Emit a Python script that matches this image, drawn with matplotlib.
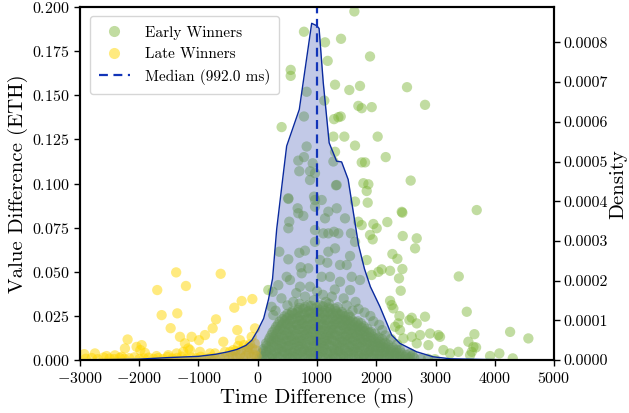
import matplotlib
matplotlib.use("Agg")
import matplotlib.pyplot as plt
from matplotlib.lines import Line2D

plt.rcParams['font.family'] = 'serif'
plt.rcParams['font.serif'] = ['cmr10']
plt.rcParams['mathtext.fontset'] = 'cm'
plt.rcParams['axes.formatter.use_mathtext'] = True
plt.rcParams['axes.unicode_minus'] = True

# ---------------- data ----------------
# Early winners: sparse points
early_x = [780, 556, 556, 403, 825, 780, 825, 780, 684, 701, 927, 882, 516, 673,
           1630, 1135, 1405, 1180, 1894, 1304, 1545, 1725, 2518, 2822, 1697, 1754, 1923, 1123,
           1287, 1400, 1461, 2023, 1641, 2159, 1754, 1810, 1304, 1276, 2580, 1782, 1866, 1838,
           1641, 1855, 1320, 3694, 2429, 1079, 966, 882, 1360, 966, 1276,
           516, 949, 1332, 684, 769, 966, 1135, 1191, 1332, 1472, 532, 516, 966, 1107, 1287,
           1360, 1191, 1573, 1641, 966, 1191, 1304, 1557, 701, 797, 364, 516, 1050, 1174, 725,
           853, 1388, 1501, 741, 488, 544, 1219, 1079, 1585, 1725, 347, 713, 882, 1388, 1557,
           251, 178, 234, 262,
           2440, 2186, 1697, 1754, 1950, 2007, 1894, 1939, 2446, 2682, 2654, 1838, 2271, 2356,
           2440, 2232, 2091, 2035, 1922, 2383, 2412, 3391, 3526, 2822, 2598, 2682, 2390, 2260,
           2232, 2288, 3655, 4257, 4565, 3553, 3683, 4076, 4302, 3919, 3384, 3047, 3075, 2907,
           2738, 2598, 2457, 2682, 2879, 3132, 3244, 3582, 3610, 2569, 2400, 2316, 2372, 2558,
           2400, 3638,
           400, 600, 650, 800, 950, 1000, 1100, 1150, 1250, 1300, 1450, 1500, 1650, 1700, 1800,
           1900, 1950, 2050, 2100, 2150, 300, 500, 700, 850, 1050, 1200, 1350, 1600, 2250, 2350]
early_y = [0.186, 0.1644, 0.161, 0.132, 0.152, 0.138, 0.121, 0.115, 0.113, 0.107, 0.1115, 0.102, 0.0913, 0.086,
           0.1975, 0.180, 0.182, 0.1695, 0.172, 0.156, 0.153, 0.1553, 0.1546, 0.1446, 0.144, 0.1427, 0.1433, 0.147,
           0.1365, 0.138, 0.1266, 0.1266, 0.1215, 0.115, 0.112, 0.112, 0.118, 0.1125, 0.1017, 0.1002, 0.0996, 0.0958,
           0.0898, 0.0892, 0.099, 0.085, 0.084, 0.0907, 0.0907, 0.107, 0.1376, 0.1059, 0.1266,
           0.0917, 0.0926, 0.0992, 0.0832, 0.0817, 0.0869, 0.0803, 0.0841, 0.086, 0.0803, 0.0784, 0.0747, 0.0737, 0.0718, 0.0727,
           0.0718, 0.0718, 0.0718, 0.067, 0.067, 0.0614, 0.0633, 0.059, 0.0608, 0.062, 0.0614, 0.0571, 0.0567, 0.0552, 0.0526,
           0.052, 0.0539, 0.0539, 0.0492, 0.0472, 0.0454, 0.0472, 0.0472, 0.0472, 0.0454, 0.0425, 0.0416, 0.0416, 0.0444, 0.0397,
           0.0387, 0.0397, 0.0302, 0.0255,
           0.0835, 0.0782, 0.0784, 0.0765, 0.0771, 0.0747, 0.0709, 0.0684, 0.0703, 0.069, 0.0633, 0.0567, 0.0601, 0.0574,
           0.0516, 0.0506, 0.0514, 0.05, 0.0482, 0.0463, 0.0393, 0.0474, 0.0274, 0.0246, 0.024, 0.0208, 0.025, 0.0312,
           0.0336, 0.0293, 0.0147, 0.016, 0.0123, 0.0104, 0.0072, 0.0038, 0.001, 0.0023, 0.0047, 0.0142, 0.0132, 0.0151,
           0.0142, 0.0132, 0.0123, 0.0095, 0.0085, 0.0057, 0.0038, 0.0028, 0.0047, 0.0038, 0.0057, 0.0189, 0.0208, 0.0227,
           0.017, 0.0075,
           0.035, 0.033, 0.038, 0.036, 0.034, 0.039, 0.037, 0.033, 0.036, 0.040, 0.035, 0.031, 0.033, 0.029, 0.027,
           0.025, 0.022, 0.020, 0.017, 0.014, 0.028, 0.031, 0.032, 0.031, 0.031, 0.032, 0.030, 0.028, 0.012, 0.009]

# Early winners: dense cluster near the bottom (first layer)
dense_x = [30, 120, 200, 290, 370, 460, 540, 630, 710, 800, 890, 970, 1060, 1150, 1230, 1320, 1400, 1490, 1580, 1660,
           1750, 1830, 1920, 2010, 2090, 2180, 2270, 2350, 2440, 2540, 2640, 2750, 2870, 2990,
           60, 150, 240, 320, 410, 500, 580, 670, 750, 840, 930, 1010, 1100, 1180, 1270, 1360, 1440, 1530, 1610, 1700,
           1790, 1870, 1960, 2050, 2130, 2220, 2310, 2400, 2500, 2610,
           90, 180, 270, 350, 440, 520, 610, 690, 780, 860, 950, 1040, 1120, 1210, 1290, 1380, 1470, 1550, 1640, 1720,
           1810, 1900, 1980, 2070, 2160, 2250, 2340,
           140, 230, 310, 400, 480, 570, 650, 740, 820, 910, 1000, 1080, 1170, 1250, 1340, 1420, 1510, 1600, 1680, 1770,
           1850, 1940, 2030, 2120, 2200,
           200, 280, 370, 450, 540, 620, 710, 790, 880, 960, 1050, 1130, 1220, 1300, 1390, 1480, 1560, 1650, 1730, 1820,
           1910, 2000, 2100,
           250, 340, 420, 510, 590, 680, 760, 850, 930, 1020, 1100, 1190, 1270, 1360, 1450, 1530, 1620, 1700, 1790, 1880, 1980,
           310, 400, 480, 570, 650, 740, 820, 910, 990, 1080, 1160, 1250, 1330, 1420, 1500, 1590, 1680, 1760, 1850,
           370, 460, 540, 630, 710, 800, 880, 970, 1050, 1140, 1220, 1310, 1390, 1480, 1560, 1650, 1740,
           450, 540, 620, 710, 790, 880, 960, 1050, 1130, 1220, 1300, 1390, 1470, 1560,
           580, 680, 770, 860, 950, 1040, 1130, 1220, 1320, 1420]
dense_y = [.0010, .0006, .0014, .0008, .0012, .0005, .0011, .0016, .0007, .0013, .0009, .0004, .0015, .0010, .0006, .0012, .0017, .0008, .0011, .0005,
           .0014, .0009, .0012, .0006, .0010, .0015, .0007, .0011, .0005, .0009, .0012, .0006, .0008, .0005,
           .0038, .0045, .0032, .0041, .0048, .0036, .0043, .0035, .0047, .0039, .0044, .0033, .0046, .0040, .0037, .0049, .0034, .0042, .0045, .0038,
           .0031, .0044, .0040, .0036, .0043, .0035, .0039, .0033, .0030, .0028,
           .0062, .0071, .0078, .0066, .0074, .0080, .0069, .0077, .0064, .0072, .0079, .0068, .0075, .0081, .0065, .0073, .0070, .0078, .0067, .0074,
           .0071, .0063, .0076, .0069, .0066, .0060, .0058,
           .0095, .0104, .0110, .0098, .0107, .0113, .0101, .0109, .0096, .0112, .0103, .0099, .0108, .0114, .0097, .0106, .0102, .0110, .0095, .0104,
           .0100, .0097, .0093, .0090, .0088,
           .0125, .0134, .0128, .0140, .0131, .0137, .0126, .0142, .0133, .0129, .0139, .0127, .0136, .0141, .0130, .0135, .0128, .0133, .0126, .0130,
           .0124, .0121, .0118,
           .0158, .0166, .0172, .0160, .0169, .0175, .0163, .0171, .0159, .0174, .0167, .0162, .0170, .0165, .0173, .0161, .0168, .0158, .0162, .0155, .0150,
           .0188, .0197, .0203, .0191, .0200, .0206, .0194, .0202, .0189, .0205, .0196, .0192, .0201, .0198, .0193, .0190, .0186, .0183, .0178,
           .0218, .0226, .0221, .0232, .0224, .0229, .0235, .0222, .0231, .0227, .0233, .0220, .0228, .0223, .0219, .0214, .0210,
           .0248, .0255, .0262, .0250, .0258, .0265, .0253, .0260, .0256, .0263, .0251, .0257, .0249, .0244,
           .0275, .0284, .0290, .0279, .0293, .0286, .0281, .0289, .0277, .0272]

# Early winners: dense cluster near the bottom (second layer)
dense2_x = [75, 165, 250, 335, 420, 505, 590, 675, 760, 845, 930, 1015, 1100, 1190, 1275, 1360, 1445, 1530, 1615, 1705,
            1790, 1875, 1960, 2045, 2135, 2220, 2305, 2395, 2480, 2570,
            105, 195, 280, 365, 450, 535, 620, 705, 790, 875, 960, 1045, 1130, 1215, 1300, 1385, 1470, 1555, 1640, 1725,
            1810, 1895, 1980, 2065, 2150, 2240, 2330, 2420,
            150, 235, 320, 405, 490, 575, 660, 745, 830, 915, 1000, 1085, 1170, 1255, 1340, 1425, 1510, 1595, 1680, 1765,
            1850, 1935, 2020, 2105, 2190, 2280,
            190, 275, 360, 445, 530, 615, 700, 785, 870, 955, 1040, 1125, 1210, 1295, 1380, 1465, 1550, 1635, 1720, 1805,
            1890, 1975, 2060, 2150,
            230, 315, 400, 485, 570, 655, 740, 825, 910, 995, 1080, 1165, 1250, 1335, 1420, 1505, 1590, 1675, 1760, 1845,
            1940, 2040,
            285, 370, 455, 540, 625, 710, 795, 880, 965, 1050, 1135, 1220, 1305, 1390, 1475, 1560, 1645, 1730, 1820, 1910,
            340, 425, 510, 595, 680, 765, 850, 935, 1020, 1105, 1190, 1275, 1360, 1445, 1530, 1615, 1700, 1790,
            410, 495, 580, 665, 750, 835, 920, 1005, 1090, 1175, 1260, 1345, 1430, 1515, 1600, 1690,
            500, 585, 670, 755, 840, 925, 1010, 1095, 1180, 1265, 1350, 1440, 1530,
            700, 800, 900, 1000, 1100, 1200, 1300]
dense2_y = [.0022, .0028, .0025, .0019, .0030, .0024, .0027, .0021, .0029, .0026, .0023, .0031, .0020, .0027, .0025, .0029, .0022, .0026, .0030, .0024,
            .0021, .0028, .0025, .0023, .0027, .0020, .0026, .0022, .0019, .0017,
            .0052, .0058, .0055, .0061, .0049, .0057, .0053, .0060, .0056, .0050, .0059, .0054, .0062, .0051, .0057, .0055, .0060, .0053, .0058, .0052,
            .0056, .0050, .0054, .0051, .0048, .0046, .0044, .0042,
            .0082, .0088, .0085, .0091, .0079, .0087, .0083, .0090, .0086, .0080, .0089, .0084, .0092, .0081, .0087, .0085, .0090, .0083, .0088, .0082,
            .0086, .0080, .0078, .0075, .0072, .0070,
            .0112, .0118, .0115, .0121, .0109, .0117, .0113, .0120, .0116, .0110, .0119, .0114, .0122, .0111, .0117, .0115, .0120, .0113, .0118, .0112,
            .0108, .0105, .0102, .0098,
            .0142, .0148, .0145, .0151, .0139, .0147, .0143, .0150, .0146, .0140, .0149, .0144, .0152, .0141, .0147, .0145, .0150, .0143, .0140, .0137,
            .0133, .0128,
            .0172, .0178, .0175, .0181, .0169, .0177, .0173, .0180, .0176, .0170, .0179, .0174, .0182, .0171, .0177, .0175, .0172, .0168, .0165, .0160,
            .0202, .0208, .0205, .0211, .0199, .0207, .0203, .0210, .0206, .0200, .0209, .0204, .0212, .0201, .0205, .0200, .0196, .0192,
            .0232, .0238, .0235, .0241, .0229, .0237, .0243, .0240, .0236, .0230, .0239, .0234, .0231, .0228, .0224, .0220,
            .0262, .0268, .0271, .0266, .0274, .0270, .0276, .0269, .0273, .0267, .0264, .0260, .0256,
            .0296, .0302, .0308, .0300, .0305, .0298, .0292]

# Late winners
late_x = [-1376, -625, -1695, -1211, -1621, -1357, -1469, -1312, -1115, -991, -1228, -890, -760, -704, -395, -271,
          -91, -345, -46, -300, -102, -581, -2195, -2240, -2043, -1958, -1903, -2927, -2746, -2549, -2409, -2296,
          -1706, -1509, -1368, -1143, -975, -806, -468, -1981, -1256, -1172, -721, -553, -412, -159,
          -2900, -2800, -2700, -2600, -2500, -2420, -2330, -2250, -2170, -2080, -2000, -1920, -1840, -1760, -1680,
          -1600, -1520, -1440, -1360, -1280, -1200, -1120, -1040, -960, -880, -800, -720, -640, -560,
          -480, -420, -360, -300, -250, -200, -150, -100, -60, -20, -380, -280, -180, -90, -30, -330, -230, -130, -50]
late_y = [0.0497, 0.0489, 0.0397, 0.042, 0.0255, 0.0265, 0.0181, 0.0132, 0.0132, 0.0113, 0.0095, 0.0142, 0.018, 0.0231, 0.0297, 0.0335,
          0.0346, 0.017, 0.018, 0.0113, 0.0132, 0.0104, 0.0117, 0.0066, 0.0075, 0.0085, 0.0041, 0.0034, 0.0038, 0.0023, 0.0027, 0.0019,
          0.0023, 0.0028, 0.0038, 0.0057, 0.0047, 0.0038, 0.0047, 0.0057, 0.0047, 0.0066, 0.0038, 0.0047, 0.0057, 0.0075,
          0.0008, 0.0012, 0.0005, 0.0015, 0.0009, 0.0006, 0.0013, 0.0007, 0.0011, 0.0016, 0.0005, 0.0010, 0.0014, 0.0007, 0.0012,
          0.0006, 0.0018, 0.0009, 0.0013, 0.0020, 0.0008, 0.0015, 0.0011, 0.0019, 0.0007, 0.0014, 0.0010, 0.0017, 0.0012,
          0.001, 0.002, 0.0015, 0.003, 0.0012, 0.0025, 0.004, 0.0018, 0.003, 0.0022, 0.005, 0.0058, 0.006, 0.0065, 0.0055, 0.008, 0.0085, 0.009, 0.0095]

# Kernel density estimate of time difference
kde_x = [-3000, -2500, -2000, -1500, -1000, -700, -500, -350, -200, -100, 0, 100, 180, 250, 320, 420, 488, 701,
         910, 995, 1035, 1105, 1205, 1330, 1415, 1525, 1615, 1700, 1800, 1900, 2060, 2180, 2260, 2400, 2680, 2960,
         3250, 3800, 4300, 4600]
kde_y = [0.0000010, 0.0000015, 0.0000025, 0.0000065, 0.0000095, 0.000015, 0.000021, 0.000027, 0.000037, 0.000050,
         0.000075, 0.000105, 0.000152, 0.000205, 0.000330, 0.000455, 0.000539, 0.000631,
         0.000848, 0.000842, 0.000835, 0.000699, 0.000547, 0.000501, 0.000499, 0.000455, 0.000370, 0.000290, 0.000230,
         0.000185, 0.000135, 0.000092, 0.000063, 0.000042, 0.000021, 0.0000084, 0.0000034, 0.0000017, 0.0000008, 0.0000003]

median_ms = 992.0

# ---------------- plot ----------------
fig = plt.figure(figsize=(6.29, 4.13), dpi=100)
ax = fig.add_axes([0.127, 0.128, 0.881 - 0.127, 0.983 - 0.128])

green = '#7db537'
yellow = '#ffd700'
msize = 55
ax.scatter(dense_x, dense_y, s=msize, color=green, alpha=0.47, edgecolors='none')
ax.scatter(dense2_x, dense2_y, s=msize, color=green, alpha=0.47, edgecolors='none')
ax.scatter(early_x, early_y, s=msize, color=green, alpha=0.47, edgecolors='none')
ax.scatter(late_x, late_y, s=msize, color=yellow, alpha=0.5, edgecolors='none')

ax.set_xlim(-3000, 5000)
ax.set_ylim(0, 0.2)
ax.set_xticks([-3000, -2000, -1000, 0, 1000, 2000, 3000, 4000, 5000])
ax.set_yticks([0, 0.025, 0.05, 0.075, 0.1, 0.125, 0.15, 0.175, 0.2])
ax.set_xlabel('Time Difference (ms)', fontsize=15, labelpad=2)
ax.set_ylabel('Value Difference (ETH)', fontsize=15, labelpad=3)
ax.tick_params(labelsize=11.5, length=4, width=1)

ax2 = ax.twinx()
line_c = '#0a2a9e'
ax2.fill_between(kde_x, kde_y, color='#374eb2', alpha=0.3, linewidth=0)
ax2.plot(kde_x, kde_y, color=line_c, linewidth=1.0)
ax2.axvline(median_ms, color='#1234b8', linestyle='--', linewidth=1.6, dashes=(4, 2.5))
ax2.set_ylim(0, 0.000889)
ax2.set_yticks([0, 0.0001, 0.0002, 0.0003, 0.0004, 0.0005, 0.0006, 0.0007, 0.0008])
ax2.set_yticklabels(['0.0000', '0.0001', '0.0002', '0.0003', '0.0004', '0.0005', '0.0006', '0.0007', '0.0008'])
ax2.set_ylabel('Density', fontsize=15, labelpad=1)
ax2.tick_params(labelsize=11.5, length=4, width=1, pad=3)

for a in (ax, ax2):
    for sp in a.spines.values():
        sp.set_linewidth(1.5)

handles = [
    Line2D([], [], marker='o', linestyle='none', markersize=8, markerfacecolor=green,
           markeredgecolor='none', alpha=0.47, label='Early Winners'),
    Line2D([], [], marker='o', linestyle='none', markersize=8, markerfacecolor=yellow,
           markeredgecolor='none', alpha=0.5, label='Late Winners'),
    Line2D([], [], color='#1234b8', linestyle='--', linewidth=1.6, dashes=(4, 2.5),
           label='Median (%.1f ms)' % median_ms),
]
ax2.legend(handles=handles, loc='upper left', fontsize=11, framealpha=0.8,
           borderpad=0.6, labelspacing=0.5, handletextpad=1.0, bbox_to_anchor=(0.005, 0.995))

fig.savefig('out.png', dpi=100)
